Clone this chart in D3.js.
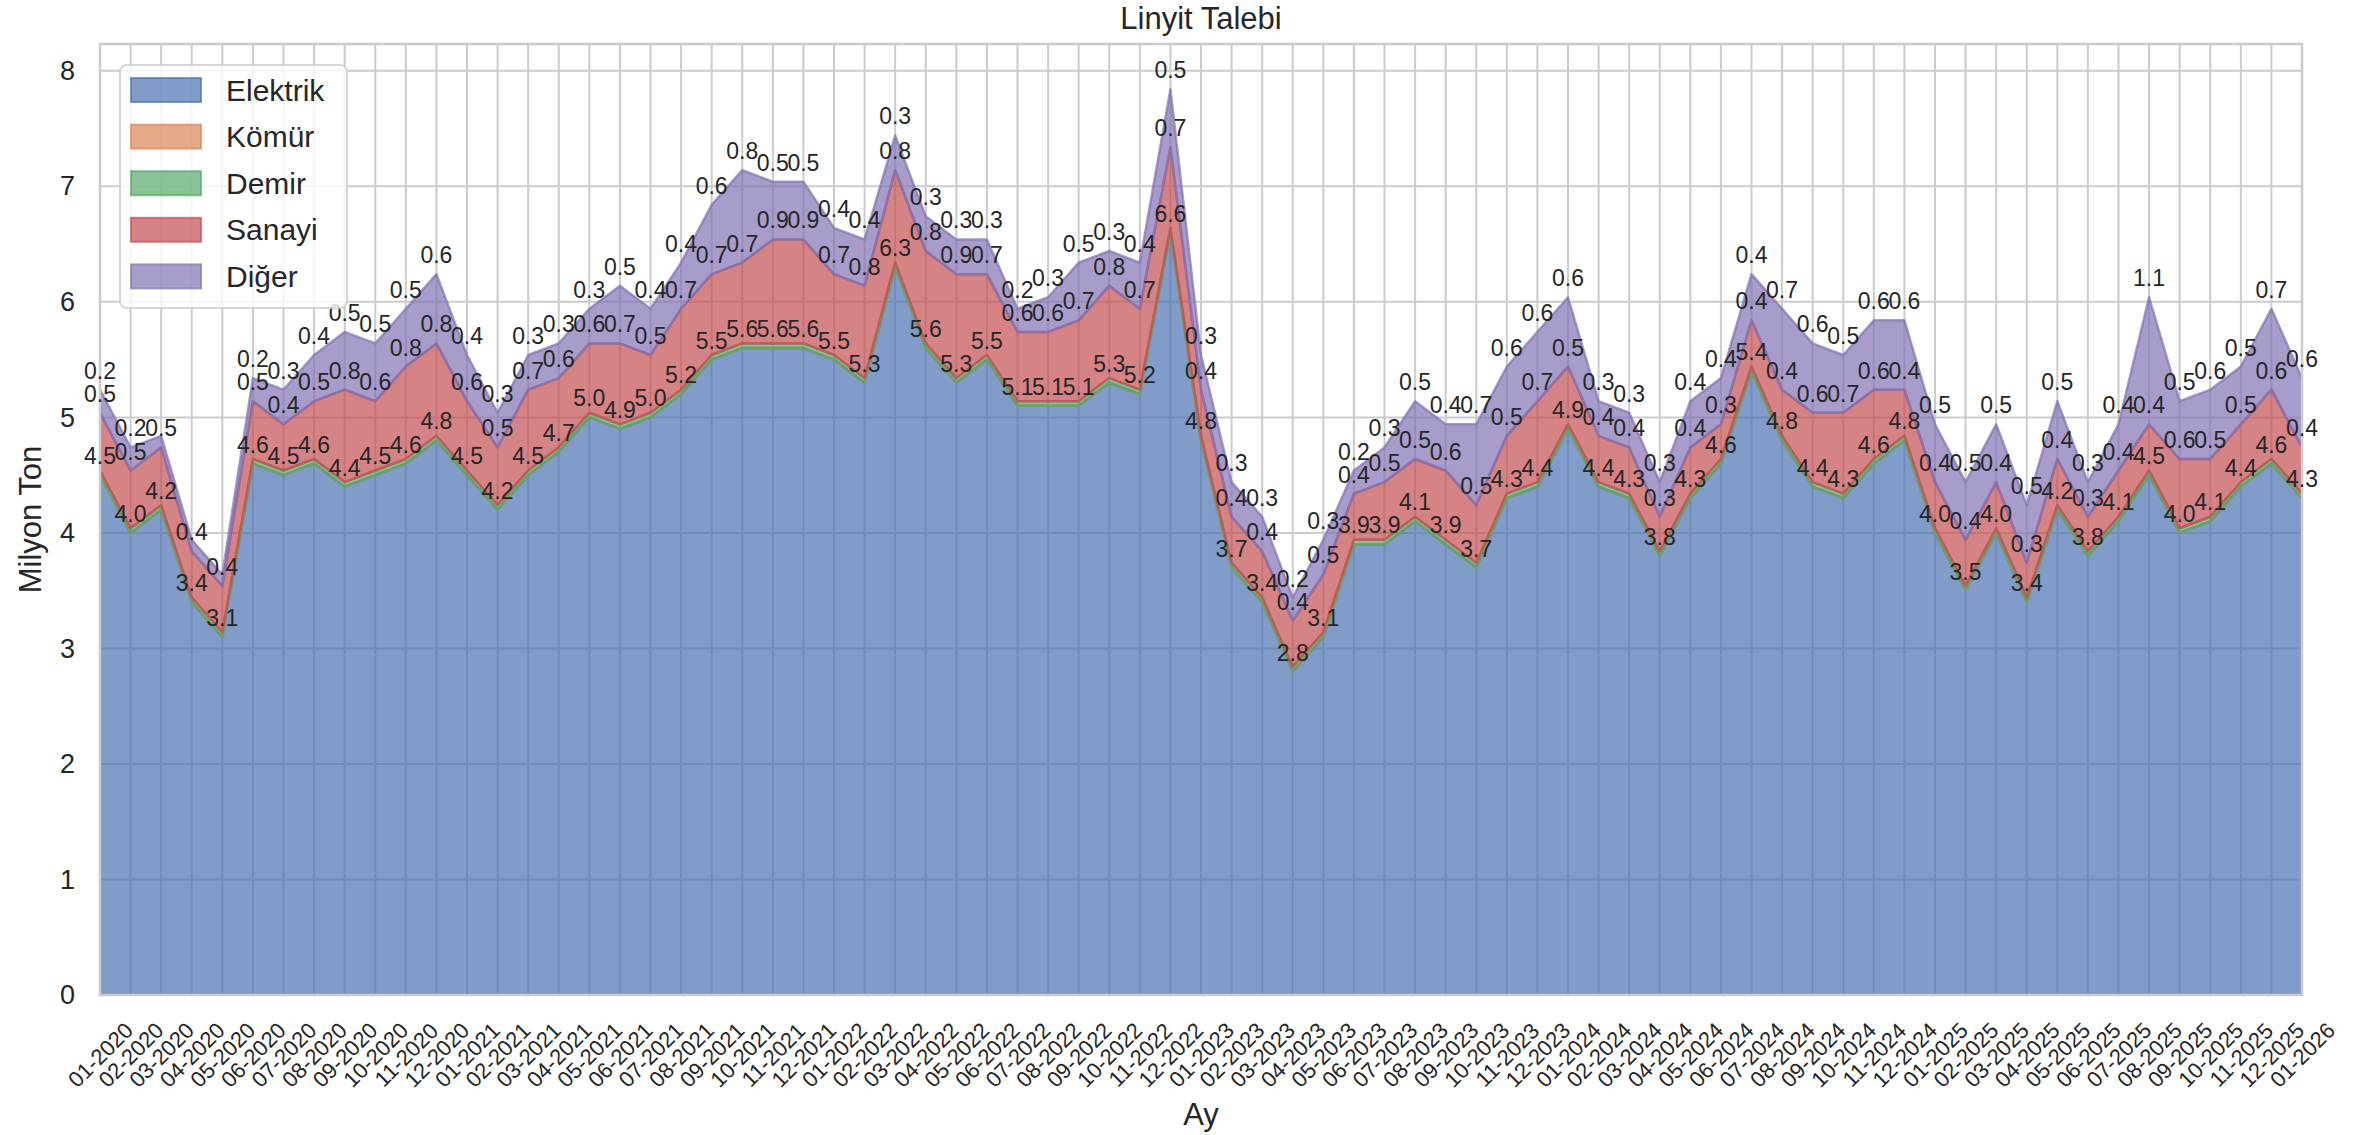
<!DOCTYPE html>
<html><head><meta charset="utf-8">
<script src="https://cdn.jsdelivr.net/npm/d3@7"></script>
<style>
body{margin:0;background:#fff}
svg{display:block}
text{font-family:"Liberation Sans",Arial,sans-serif;fill:#262626}
</style>
</head><body>
<svg id="c" width="2358" height="1135"></svg>
<script>
const months = ["01-2020","02-2020","03-2020","04-2020","05-2020","06-2020","07-2020","08-2020","09-2020","10-2020","11-2020","12-2020",
"01-2021","02-2021","03-2021","04-2021","05-2021","06-2021","07-2021","08-2021","09-2021","10-2021","11-2021","12-2021",
"01-2022","02-2022","03-2022","04-2022","05-2022","06-2022","07-2022","08-2022","09-2022","10-2022","11-2022","12-2022",
"01-2023","02-2023","03-2023","04-2023","05-2023","06-2023","07-2023","08-2023","09-2023","10-2023","11-2023","12-2023",
"01-2024","02-2024","03-2024","04-2024","05-2024","06-2024","07-2024","08-2024","09-2024","10-2024","11-2024","12-2024",
"01-2025","02-2025","03-2025","04-2025","05-2025","06-2025","07-2025","08-2025","09-2025","10-2025","11-2025","12-2025",
"01-2026"];
const seriesNames = ["Elektrik","Kömür","Demir","Sanayi","Diğer"];
const elektrik = [4.5,4.0,4.2,3.4,3.1,4.6,4.5,4.6,4.4,4.5,4.6,4.8,
  4.5,4.2,4.5,4.7,5.0,4.9,5.0,5.2,5.5,5.6,5.6,5.6,
  5.5,5.3,6.3,5.6,5.3,5.5,5.1,5.1,5.1,5.3,5.2,6.6,
  4.8,3.7,3.4,2.8,3.1,3.9,3.9,4.1,3.9,3.7,4.3,4.4,
  4.9,4.4,4.3,3.8,4.3,4.6,5.4,4.8,4.4,4.3,4.6,4.8,
  4.0,3.5,4.0,3.4,4.2,3.8,4.1,4.5,4.0,4.1,4.4,4.6,4.3];
const komur = [0,0,0,0,0,0,0,0,0,0,0,0,
  0,0,0,0,0,0,0,0,0,0,0,0,
  0,0,0,0,0,0,0,0,0,0,0,0,
  0,0,0,0,0,0,0,0,0,0,0,0,
  0,0,0,0,0,0,0,0,0,0,0,0,
  0,0,0,0,0,0,0,0,0,0,0,0,0];
const demir = [0.04,0.04,0.04,0.04,0.04,0.04,0.04,0.04,0.04,0.04,0.04,0.04,
  0.04,0.04,0.04,0.04,0.04,0.04,0.04,0.04,0.04,0.04,0.04,0.04,
  0.04,0.04,0.04,0.04,0.04,0.04,0.04,0.04,0.04,0.04,0.04,0.04,
  0.04,0.04,0.04,0.04,0.04,0.04,0.04,0.04,0.04,0.04,0.04,0.04,
  0.04,0.04,0.04,0.04,0.04,0.04,0.04,0.04,0.04,0.04,0.04,0.04,
  0.04,0.04,0.04,0.04,0.04,0.04,0.04,0.04,0.04,0.04,0.04,0.04,0.04];
const sanayi = [0.5,0.5,0.5,0.4,0.4,0.5,0.4,0.5,0.8,0.6,0.8,0.8,
  0.6,0.5,0.7,0.6,0.6,0.7,0.5,0.7,0.7,0.7,0.9,0.9,
  0.7,0.8,0.8,0.8,0.9,0.7,0.6,0.6,0.7,0.8,0.7,0.7,
  0.4,0.4,0.4,0.4,0.5,0.4,0.5,0.5,0.6,0.5,0.5,0.7,
  0.5,0.4,0.4,0.3,0.4,0.3,0.4,0.4,0.6,0.7,0.6,0.4,
  0.4,0.4,0.4,0.3,0.4,0.3,0.4,0.4,0.6,0.5,0.5,0.6,0.4];
const diger = [0.2,0.2,0.1,0.1,0.1,0.2,0.3,0.4,0.5,0.5,0.5,0.6,
  0.4,0.3,0.3,0.3,0.3,0.5,0.4,0.4,0.6,0.8,0.5,0.5,
  0.4,0.4,0.3,0.3,0.3,0.3,0.2,0.3,0.5,0.3,0.4,0.5,
  0.3,0.3,0.3,0.2,0.3,0.2,0.3,0.5,0.4,0.7,0.6,0.6,
  0.6,0.3,0.3,0.3,0.4,0.4,0.4,0.7,0.6,0.5,0.6,0.6,
  0.5,0.5,0.5,0.5,0.5,0.3,0.4,1.1,0.5,0.6,0.5,0.7,0.6];
const colors = ["#4C72B0","#DD8452","#55A868","#C44E52","#8172B3"];
const yTicks = [0,1,2,3,4,5,6,7,8];
const titleText = "Linyit Talebi", xLabel = "Ay", yLabel = "Milyon Ton";

const L = 100, R = 2302, T = 44, B = 995;
const seriesData = [elektrik, komur, demir, sanayi, diger];
const rows = months.map((m, i) => {
  const r = {month: m};
  seriesNames.forEach((s, k) => r[s] = seriesData[k][i]);
  return r;
});
const stacked = d3.stack().keys(seriesNames)(rows);
const x = d3.scalePoint().domain(months).range([L, R]);
const ymax = d3.max(rows, r => d3.sum(seriesNames, s => r[s])) * 1.05;
const y = d3.scaleLinear().domain([0, ymax]).range([B, T]);

const svg = d3.select("#c");
svg.append("defs").append("clipPath").attr("id", "clip")
  .append("rect").attr("x", L).attr("y", T).attr("width", R - L).attr("height", B - T);

// grid
const grid = svg.append("g");
grid.selectAll("line.v").data(months).join("line")
  .attr("x1", d => x(d)).attr("x2", d => x(d)).attr("y1", T).attr("y2", B)
  .attr("stroke", "#cccccc").attr("stroke-width", 2);
grid.selectAll("line.h").data(yTicks).join("line")
  .attr("x1", L).attr("x2", R).attr("y1", d => y(d)).attr("y2", d => y(d))
  .attr("stroke", "#cccccc").attr("stroke-width", 2);

// areas
const area = d3.area().x(d => x(d.data.month)).y0(d => y(d[0])).y1(d => y(d[1]));
svg.append("g").attr("clip-path", "url(#clip)")
  .selectAll("path").data(stacked).join("path")
  .attr("d", area)
  .attr("fill", (d, i) => colors[i]).attr("fill-opacity", 0.7)
  .attr("stroke", (d, i) => colors[i]).attr("stroke-opacity", 0.7)
  .attr("stroke-width", 2.5).attr("stroke-linejoin", "round");

// frame
svg.append("rect").attr("x", L).attr("y", T).attr("width", R - L).attr("height", B - T)
  .attr("fill", "none").attr("stroke", "#cccccc").attr("stroke-width", 2.6);

// y axis
const yAxis = svg.append("g").attr("transform", `translate(${L},0)`)
  .call(d3.axisLeft(y).tickValues(yTicks).tickSize(0).tickPadding(25).tickFormat(d3.format("d")));
yAxis.select(".domain").remove();
yAxis.selectAll("text").attr("font-size", 27).attr("font-family", "Liberation Sans, Arial, sans-serif").attr("fill", "#262626");

// x axis
const xAxis = svg.append("g").attr("transform", `translate(0,${B})`)
  .call(d3.axisBottom(x).tickSize(0));
xAxis.select(".domain").remove();
xAxis.selectAll("text")
  .attr("y", 0).attr("dy", null).attr("x", 0)
  .attr("font-size", 22).attr("font-family", "Liberation Sans, Arial, sans-serif").attr("fill", "#262626")
  .attr("text-anchor", "middle").attr("dominant-baseline", "central")
  .attr("transform", "translate(0,60) rotate(-45)");

// value labels
const lab = svg.append("g");
stacked.forEach((layer, k) => {
  layer.forEach((d, i) => {
    const v = seriesData[k][i];
    if (v >= 0.15) {
      lab.append("text").attr("x", x(months[i])).attr("y", y(d[1]) - 11)
        .attr("text-anchor", "middle").attr("font-size", 23).text(v.toFixed(1));
    }
  });
});

// titles
svg.append("text").attr("x", (L + R) / 2).attr("y", 29).attr("text-anchor", "middle")
  .attr("font-size", 31).text(titleText);
svg.append("text").attr("x", (L + R) / 2).attr("y", 1125).attr("text-anchor", "middle")
  .attr("font-size", 31).text(xLabel);
svg.append("text").attr("transform", `translate(41,${(T + B) / 2}) rotate(-90)`)
  .attr("text-anchor", "middle").attr("font-size", 31).text(yLabel);

// legend
const lg = svg.append("g");
lg.append("rect").attr("x", 120).attr("y", 65).attr("width", 227).attr("height", 243)
  .attr("rx", 7).attr("fill", "#fff").attr("fill-opacity", 0.8)
  .attr("stroke", "#cccccc").attr("stroke-opacity", 0.8).attr("stroke-width", 2);
seriesNames.forEach((s, k) => {
  const cy = 90 + k * 46.6;
  lg.append("rect").attr("x", 131).attr("y", cy - 12).attr("width", 70).attr("height", 24)
    .attr("fill", colors[k]).attr("fill-opacity", 0.7)
    .attr("stroke", colors[k]).attr("stroke-opacity", 0.7).attr("stroke-width", 2);
  lg.append("text").attr("x", 226).attr("y", cy + 10.5).attr("font-size", 30).text(s);
});
</script>
</body></html>
